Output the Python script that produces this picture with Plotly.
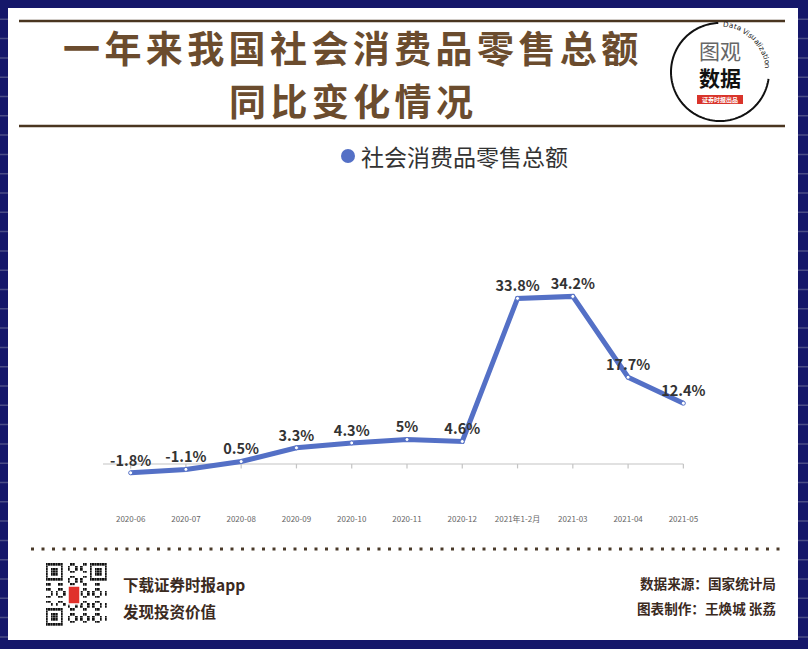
import math
import plotly.graph_objects as go

W, H = 808, 649

# ---------------- data ----------------
categories = ["2020-06", "2020-07", "2020-08", "2020-09", "2020-10", "2020-11",
              "2020-12", "2021年1-2月", "2021-03", "2021-04", "2021-05"]
values = [-1.8, -1.1, 0.5, 3.3, 4.3, 5, 4.6, 33.8, 34.2, 17.7, 12.4]
value_labels = ["-1.8%", "-1.1%", "0.5%", "3.3%", "4.3%", "5%", "4.6%",
                "33.8%", "34.2%", "17.7%", "12.4%"]
series_name = "社会消费品零售总额"
title_lines = ["一年来我国社会消费品零售总额", "同比变化情况"]

FONT = "Noto Sans CJK SC"
BLUE = "#5470c6"
BROWN = "#6b4c2e"
DARK = "#3b2a1e"
NAVY = "#15176a"


def px(x):
    return x / W


def py(y):
    return 1 - y / H


shapes = []
annotations = []

# background stripes on navy
for k in range(1, 34):
    yy = 19.3 * k
    shapes.append(dict(type="line", xref="paper", yref="paper", x0=0, x1=1,
                       y0=py(yy), y1=py(yy), line=dict(color="#4a4c86", width=1.5),
                       layer="below"))
# white panel
shapes.append(dict(type="rect", xref="paper", yref="paper", x0=px(8), x1=px(798),
                   y0=py(640), y1=py(8), fillcolor="white", line=dict(width=0),
                   layer="below"))
# brown rules
for yy in (21, 126):
    shapes.append(dict(type="line", xref="paper", yref="paper", x0=px(19), x1=px(785),
                       y0=py(yy), y1=py(yy), line=dict(color="#4a3520", width=2.5)))
# dotted footer separator
shapes.append(dict(type="line", xref="paper", yref="paper", x0=px(31), x1=px(786),
                   y0=py(549), y1=py(549), line=dict(color="#4a3a2a", width=3, dash="3px,7.5px")))

# zero axis line + ticks (data coords)
shapes.append(dict(type="line", xref="x", yref="y", x0=-0.5, x1=len(categories) - 1,
                   y0=0, y1=0, line=dict(color="#c4c4c4", width=1.2), layer="below"))
for i in range(len(categories)):
    shapes.append(dict(type="line", xref="x", yref="y", x0=i, x1=i, y0=0, y1=-0.9,
                       line=dict(color="#c4c4c4", width=1.2), layer="below"))

# ---------------- logo ----------------
cx, cy, r = 720, 72, 49
pts = []
for d in range(92, 353, 2):
    t = math.radians(d)
    pts.append((px(cx + r * math.cos(t)), py(cy - r * math.sin(t))))
path = "M " + " L ".join(f"{a:.5f},{b:.5f}" for a, b in pts)
shapes.append(dict(type="path", xref="paper", yref="paper", path=path,
                   line=dict(color="#111", width=2)))

logo_txt = "Data Visualization"
char_w = {"D": .77, "a": .61, "t": .39, " ": .32, "V": .68, "i": .28, "s": .52,
          "u": .63, "l": .28, "z": .53, "o": .61, "n": .63}
total = sum(char_w[c] for c in logo_txt)
a0, a1 = 86, 4
cum = 0.0
for ch in logo_txt:
    w = char_w[ch]
    mid = cum + w / 2
    cum += w
    if ch == " ":
        continue
    th = a0 - (a0 - a1) * mid / total
    t = math.radians(th)
    rr = r - 1
    annotations.append(dict(x=px(cx + rr * math.cos(t)), y=py(cy - rr * math.sin(t)),
                            xref="paper", yref="paper", text=ch, showarrow=False,
                            textangle=90 - th, font=dict(family="DejaVu Sans", size=7.2, color="#222"),
                            xanchor="center", yanchor="middle"))
annotations.append(dict(x=px(720), y=py(64), xref="paper", yref="paper",
                        text="<span style='color:#666'>图观</span><br><b>数据</b>",
                        showarrow=False, font=dict(family=FONT, size=21, color="#111"),
                        xanchor="center", yanchor="middle", align="center"))
shapes.append(dict(type="rect", xref="paper", yref="paper", x0=px(697), x1=px(743),
                   y0=py(104), y1=py(95), fillcolor="#d9342b", line=dict(width=0)))
annotations.append(dict(x=px(720), y=py(99.5), xref="paper", yref="paper", text="<b>证券时报出品</b>",
                        showarrow=False, font=dict(family=FONT, size=6, color="white"),
                        xanchor="center", yanchor="middle"))

# ---------------- title ----------------
for txt, yy in zip(title_lines, (46.5, 100.5)):
    annotations.append(dict(x=px(353), y=py(yy), xref="paper", yref="paper",
                            text=f"<span style='letter-spacing:4.4px'>{txt}</span>",
                            showarrow=False,
                            font=dict(family=FONT, size=37, color=BROWN, weight="bold"),
                            xanchor="center", yanchor="middle"))

# ---------------- legend ----------------
shapes.append(dict(type="circle", xref="paper", yref="paper", x0=px(341), x1=px(355),
                   y0=py(163), y1=py(149), fillcolor=BLUE, line=dict(width=0)))
annotations.append(dict(x=px(359), y=py(156), xref="paper", yref="paper", text=series_name,
                        showarrow=False, font=dict(family=FONT, size=23, color="#333"),
                        xanchor="left", yanchor="middle"))

# ---------------- footer ----------------
for txt, yy in (("下载证券时报app", 584), ("发现投资价值", 611)):
    annotations.append(dict(x=px(121), y=py(yy), xref="paper", yref="paper", text=f"<b>{txt}</b>",
                            showarrow=False, font=dict(family=FONT, size=15.5, color=DARK),
                            xanchor="left", yanchor="middle"))
for txt, yy in (("数据来源：国家统计局", 583), ("图表制作：王焕城 张荔", 608)):
    annotations.append(dict(x=px(778), y=py(yy), xref="paper", yref="paper", text=f"<b>{txt}</b>",
                            showarrow=False, font=dict(family=FONT, size=13.6, color=DARK),
                            xanchor="right", yanchor="middle"))

# QR-like decoration
N = 25
qr = [[0] * N for _ in range(N)]
for i in range(N):
    for j in range(N):
        qr[i][j] = 1 if ((i * 7 + j * 11 + i * j) % 5) < 2 else 0


def finder(r0, c0):
    for i in range(7):
        for j in range(7):
            ring = max(abs(i - 3), abs(j - 3))
            qr[r0 + i][c0 + j] = 1 if ring in (0, 1, 3) else 0
    for k in range(-1, 8):
        for (a, b) in ((r0 - 1, c0 + k), (r0 + 7, c0 + k), (r0 + k, c0 - 1), (r0 + k, c0 + 7)):
            if 0 <= a < N and 0 <= b < N:
                qr[a][b] = 0


finder(0, 0)
finder(0, N - 7)
finder(N - 7, 0)

fig = go.Figure()
fig.add_trace(go.Heatmap(z=qr, colorscale=[[0, "white"], [1, "#111"]], showscale=False,
                         xaxis="x2", yaxis="y2", hoverinfo="skip", xgap=0.3, ygap=0.3))
shapes.append(dict(type="rect", xref="paper", yref="paper", x0=px(68), x1=px(80),
                   y0=py(604), y1=py(586), fillcolor="#e0312b", line=dict(color="white", width=1.5)))

# ---------------- main series ----------------
fig.add_trace(go.Scatter(
    x=categories, y=values, mode="lines+markers+text", name=series_name,
    line=dict(color=BLUE, width=5),
    marker=dict(size=4, color="white", line=dict(color=BLUE, width=1)),
    text=value_labels, texttemplate="<b>%{text}</b>", textposition="top center",
    textfont=dict(family=FONT, size=14.5, color="#333"),
    showlegend=False, cliponaxis=False,
))

fig.update_layout(
    width=W, height=H, margin=dict(l=0, r=0, t=0, b=0),
    paper_bgcolor=NAVY, plot_bgcolor="rgba(0,0,0,0)",
    showlegend=False,
    xaxis=dict(domain=[px(103), px(711)], type="category", range=[-0.5, len(categories) - 0.5],
               showgrid=False, zeroline=False, showline=False, ticks="",
               tickfont=dict(family=FONT, size=8, color="#666"), fixedrange=True),
    yaxis=dict(domain=[py(513), py(268)], range=[-10, 40], visible=False, fixedrange=True),
    xaxis2=dict(domain=[px(46), px(107)], visible=False, anchor="y2"),
    yaxis2=dict(domain=[py(626), py(563)], visible=False, anchor="x2", autorange="reversed"),
    shapes=shapes, annotations=annotations,
)

fig.write_html("out.html")
